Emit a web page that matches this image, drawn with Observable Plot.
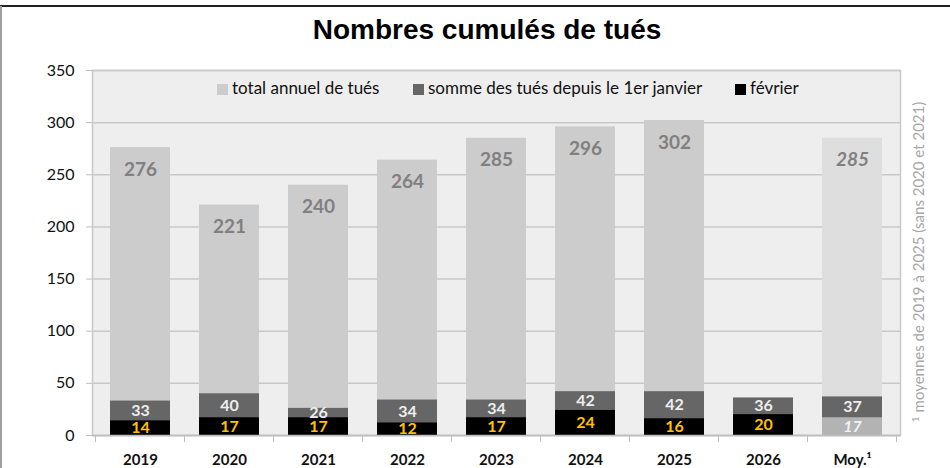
<!DOCTYPE html>
<html>
<head>
<meta charset="utf-8">
<script src="https://cdn.jsdelivr.net/npm/d3@7"></script>
<script src="https://cdn.jsdelivr.net/npm/@observablehq/plot@0.6"></script>
<style>
  html, body { margin: 0; padding: 0; background: #fff; }
  #wrap { position: relative; width: 950px; height: 468px; overflow: hidden; font-family: Lato, "Open Sans", sans-serif; }
  #topline { position: absolute; left: 0; top: 5px; width: 950px; height: 2px; background: #222; }
  #leftline { position: absolute; left: 0; top: 6px; width: 2px; height: 462px; background: #a0a0a0; }
  #title { position: absolute; left: 0; top: 15px; width: 950px; padding-left: 24px; box-sizing: border-box; text-align: center;
           font-family: "Liberation Sans", Arial, sans-serif; font-weight: bold; font-size: 28px; line-height: 30px; color: #000; }
  #chart { position: absolute; left: 0; top: 55px; }
  #legend { position: absolute; top: 78px; left: 0; height: 20px; font-size: 17px; color: #111; }
  .li { position: absolute; top: 0; white-space: nowrap; line-height: 20px; }
  .sw { display: inline-block; width: 11px; height: 11px; margin-right: 4px; vertical-align: -1px; }
  #note { position: absolute; left: 918px; top: 262px; transform: translate(-50%, -50%) rotate(-90deg);
          white-space: nowrap; font-size: 15px; color: #a6a6a6; }
  #note sup { font-size: 10px; vertical-align: 5px; margin-right: 4px; }
</style>
</head>
<body>
<div id="wrap">
  <div id="topline"></div>
  <div id="leftline"></div>
  <div id="title">Nombres cumulés de tués</div>
  <div id="chart"></div>
  <div id="legend"></div>
  <div id="note"><sup>1</sup>moyennes de 2019 à 2025 (sans 2020 et 2021)</div>
</div>
<script>
const years = ["2019", "2020", "2021", "2022", "2023", "2024", "2025", "2026", "Moy."];
const yearLabels = ["2019", "2020", "2021", "2022", "2023", "2024", "2025", "2026", "Moy.\u00b9"];
const totals = [276, 221, 240, 264, 285, 296, 302, null, 285];
const cumulated = [33, 40, 26, 34, 34, 42, 42, 36, 37];
const february = [14, 17, 17, 12, 17, 24, 16, 20, 17];
const yTicks = [0, 50, 100, 150, 200, 250, 300, 350];
const legendLabels = ["total annuel de tués", "somme des tués depuis le 1er janvier", "février"];
const legendColors = ["#cccccc", "#666666", "#000000"];

const rows = years.map((year, i) => ({ year, total: totals[i], cum: cumulated[i], fev: february[i] }));
const isAvg = d => d.year === "Moy.";
const regular = rows.filter(d => !isAvg(d));
const avg = rows.filter(isAvg);
const labelOf = new Map(years.map((y, i) => [y, yearLabels[i]]));

const boundaryTicks = (index, scales, values, dimensions) => {
  const x = scales.x, y = scales.y;
  const g = d3.create("svg:g");
  const step = x.step();
  const y0 = y(0);
  const edges = years.map(d => x(d) + x.bandwidth() / 2 - step / 2);
  edges.push(x(years[years.length - 1]) + x.bandwidth() / 2 + step / 2);
  for (const e of edges) {
    g.append("line").attr("x1", e).attr("x2", e).attr("y1", y0).attr("y2", y0 + 7)
      .attr("stroke", "#bfbfbf").attr("stroke-width", 1);
  }
  return g.node();
};

const chart = Plot.plot({
  width: 950,
  height: 413,
  marginLeft: 92,
  marginRight: 50,
  marginTop: 15,
  marginBottom: 33,
  style: { fontFamily: "Lato, 'Open Sans', sans-serif", background: "transparent" },
  x: { domain: years, paddingInner: 0.33, paddingOuter: 0.165, align: 0.5, label: null },
  y: { domain: [0, 350], label: null },
  marks: [
    Plot.frame({ fill: "#eeeeee", stroke: null }),
    Plot.gridY(yTicks, { stroke: "#c8c8c8", strokeOpacity: 1, strokeWidth: 1.5 }),
    Plot.frame({ stroke: "#c8c8c8", strokeWidth: 1.5 }),
    Plot.barY(regular.filter(d => d.total != null), { x: "year", y1: 0, y2: "total", fill: "#cccccc" }),
    Plot.barY(avg, { x: "year", y1: 0, y2: "total", fill: "#dedede" }),
    Plot.barY(rows, { x: "year", y1: 0, y2: "cum", fill: "#666666" }),
    Plot.barY(regular, { x: "year", y1: 0, y2: "fev", fill: "#000000" }),
    Plot.barY(avg, { x: "year", y1: 0, y2: "fev", fill: "#b3b3b3" }),
    Plot.text(regular.filter(d => d.total != null), { x: "year", y: "total", text: d => String(d.total), dy: 22,
      fill: "#808080", fontWeight: "bold", fontSize: 19 }),
    Plot.text(avg, { x: "year", y: "total", text: d => String(d.total), dy: 22,
      fill: "#808080", fontWeight: "bold", fontStyle: "italic", fontSize: 19 }),
    Plot.text(rows, { x: "year", y: d => (d.cum + d.fev) / 2, text: d => String(d.cum),
      fill: "#eeeeee", fontWeight: "bold", fontSize: 16 }),
    Plot.text(regular, { x: "year", y: d => d.fev / 2, text: d => String(d.fev),
      fill: "#ffc000", fontWeight: "bold", fontSize: 16 }),
    Plot.text(avg, { x: "year", y: d => d.fev / 2, text: d => String(d.fev),
      fill: "#f2f2f2", fontWeight: "bold", fontStyle: "italic", fontSize: 16 }),
    Plot.axisY(yTicks, { tickSize: 6, tickPadding: 12, fontSize: 16, fill: "#111", stroke: "#bfbfbf" }),
    Plot.ruleY([0], { stroke: "#bfbfbf", strokeWidth: 1.5 }),
    boundaryTicks,
    Plot.axisX({ tickSize: 0, tickPadding: 19, fontSize: 15, fontWeight: "bold", fill: "#111",
      tickFormat: d => labelOf.get(d) })
  ]
});
document.getElementById("chart").appendChild(chart);

const legendLeft = [217, 413, 735];
const legend = document.getElementById("legend");
legendLabels.forEach((label, i) => {
  const item = document.createElement("div");
  item.className = "li";
  item.style.left = legendLeft[i] + "px";
  const sw = document.createElement("span");
  sw.className = "sw";
  sw.style.background = legendColors[i];
  item.appendChild(sw);
  item.appendChild(document.createTextNode(label));
  legend.appendChild(item);
});
</script>
</body>
</html>
